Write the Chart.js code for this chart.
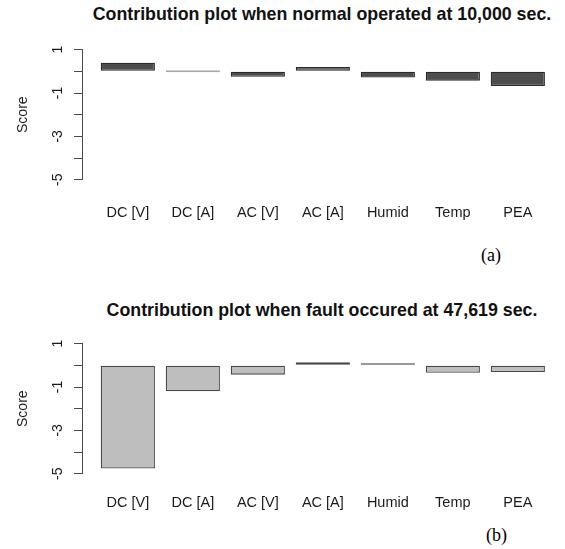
<!DOCTYPE html>
<html>
<head>
<meta charset="utf-8">
<script src="https://cdn.jsdelivr.net/npm/chart.js@4.4.1/dist/chart.umd.min.js"></script>
<style>
  html, body { margin: 0; padding: 0; background: #fff; }
  body { width: 565px; height: 549px; position: relative; overflow: hidden;
         font-family: "Liberation Sans", Arial, Helvetica, sans-serif; }
  .title { position: absolute; left: 0; width: 644px; text-align: center;
           font-weight: bold; font-size: 17.8px; line-height: 20px; color: #111; white-space: nowrap; }
  .panel { position: absolute; left: 0; width: 565px; height: 230px; }
  .tag { position: absolute; font-family: "Liberation Serif", "Times New Roman", serif;
         font-size: 18px; line-height: 20px; color: #000; }
</style>
</head>
<body>
<div class="title" style="top:4px">Contribution plot when normal operated at 10,000 sec.</div>
<div class="panel" style="top:0px"><canvas id="chartNormal" width="565" height="230"></canvas></div>
<div class="tag" style="left:481px; top:245px">(a)</div>

<div class="title" style="top:300px">Contribution plot when fault occured at 47,619 sec.</div>
<div class="panel" style="top:294px"><canvas id="chartFault" width="565" height="230"></canvas></div>
<div class="tag" style="left:486px; top:525px">(b)</div>

<script>
// Variables in the contribution plots
const categories = ['DC [V]', 'DC [A]', 'AC [V]', 'AC [A]', 'Humid', 'Temp', 'PEA'];

// Contribution scores, normal operation at 10,000 s
const normalScores = [0.40, 0.00, -0.25, 0.20, -0.29, -0.43, -0.68];

// Contribution scores, fault at 47,619 s
const faultScores = [-4.76, -1.20, -0.43, 0.14, 0.05, -0.34, -0.31];

// Score axis ticks and their printed labels
const scoreTicks = [-5, -4, -3, -2, -1, 0, 1];
const scoreTickLabels = ['-5', '', '-3', '', '-1', '', '1'];
const scoreLimits = [-5, 1];

// barplot-style layout: unit bar width with a gap of 0.2 before every bar
const SPACE = 0.2;
const centers = categories.map((_, i) => SPACE + 0.5 + i * (1 + SPACE));
const xSpan = [SPACE, categories.length * (1 + SPACE)];
const xPad = 0.04 * (xSpan[1] - xSpan[0]);
const yPad = 0.04 * (scoreLimits[1] - scoreLimits[0]);

const FONT = '"Liberation Sans", Arial, Helvetica, sans-serif';
const INK = '#1a1a1a';
const AXIS = '#4a4a4a';

// Draws the left axis line only between the outermost ticks
const axisLinePlugin = {
  id: 'axisLine',
  afterDraw(chart) {
    const y = chart.scales.y;
    const ctx = chart.ctx;
    const x = Math.round(y.right) - 0.5;
    ctx.save();
    ctx.strokeStyle = AXIS;
    ctx.lineWidth = 1;
    ctx.beginPath();
    ctx.moveTo(x, y.getPixelForValue(scoreLimits[1]));
    ctx.lineTo(x, y.getPixelForValue(scoreLimits[0]));
    ctx.stroke();
    ctx.restore();
  }
};

function makeChart(id, values, fills, borders, labelPadding) {
  return new Chart(document.getElementById(id), {
    type: 'bar',
    data: {
      datasets: [{
        data: values.map((v, i) => ({ x: centers[i], y: v })),
        backgroundColor: fills,
        borderColor: borders,
        borderWidth: 1.3,
        borderSkipped: false,
        minBarLength: 2,
        categoryPercentage: 1,
        barPercentage: 1 / (1 + SPACE)
      }]
    },
    options: {
      responsive: false,
      animation: false,
      devicePixelRatio: 1,
      layout: { padding: { left: 0, right: 2.3, top: 44.4, bottom: 0 } },
      plugins: { legend: { display: false }, tooltip: { enabled: false }, title: { display: false } },
      scales: {
        x: {
          type: 'linear',
          offset: false,
          min: xSpan[0] - xPad,
          max: xSpan[1] + xPad,
          grid: { display: false, drawTicks: false },
          border: { display: false },
          afterBuildTicks: s => { s.ticks = centers.map(v => ({ value: v })); },
          afterFit: s => { s.height = 45; },
          ticks: {
            autoSkip: false, minRotation: 0, maxRotation: 0, padding: labelPadding,
            color: INK, font: { family: FONT, size: 14.5 },
            callback: (v, i) => categories[i]
          }
        },
        y: {
          type: 'linear',
          min: scoreLimits[0] - yPad,
          max: scoreLimits[1] + yPad,
          grid: { drawOnChartArea: false, drawTicks: true, tickLength: 9, color: AXIS, lineWidth: 1 },
          border: { display: false },
          afterBuildTicks: s => { s.ticks = scoreTicks.map(v => ({ value: v })); },
          afterFit: s => { s.width = 83; },
          title: { display: true, text: 'Score', color: INK, font: { family: FONT, size: 14 }, padding: { top: 15, bottom: 0 } },
          ticks: {
            autoSkip: false, minRotation: 90, maxRotation: 90, crossAlign: 'center', padding: 10,
            color: INK, font: { family: FONT, size: 14 },
            callback: (v, i) => scoreTickLabels[i]
          }
        }
      }
    },
    plugins: [axisLinePlugin]
  });
}

makeChart('chartNormal', normalScores,
  ['#4d4d4d', '#a8a8a8', '#4d4d4d', '#4d4d4d', '#4d4d4d', '#4d4d4d', '#4d4d4d'],
  ['#2a2a2a', '#a8a8a8', '#2a2a2a', '#2a2a2a', '#2a2a2a', '#2a2a2a', '#2a2a2a'], 19);

makeChart('chartFault', faultScores,
  categories.map(() => '#bebebe'),
  categories.map(() => '#484848'), 15);
</script>
</body>
</html>
